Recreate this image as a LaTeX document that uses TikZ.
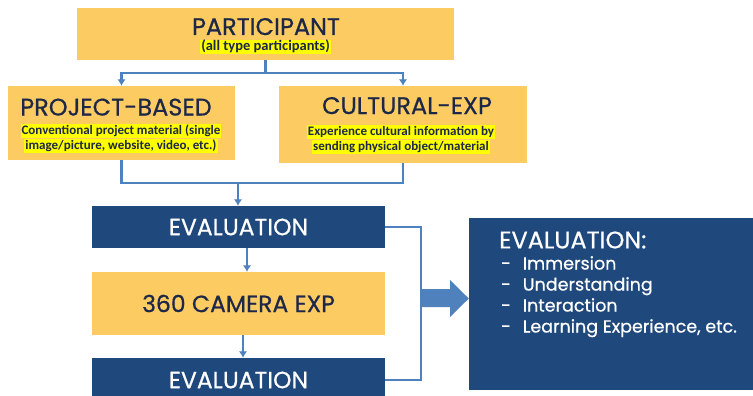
\documentclass[tikz,border=0pt]{standalone}
\usepackage{fontspec}
\setmainfont{Carlito}
\newfontfamily\headfont[FakeBold=0.6]{Poppins}
\usepackage{tikz}
\usetikzlibrary{arrows.meta,positioning}
\definecolor{boxgold}{RGB}{252,204,98}
\definecolor{boxnavy}{RGB}{31,72,124}
\definecolor{linkblue}{RGB}{79,129,189}
\definecolor{inkblue}{RGB}{29,39,72}
\definecolor{hlyellow}{RGB}{255,255,0}

\begin{document}
\begin{tikzpicture} [
    x = 1pt, y = -1pt,
    inner sep = 0,
    every node/.style = { text = inkblue },
    goldbox/.style = { fill = boxgold },
    navybox/.style = { fill = boxnavy },
    head/.style = { anchor = base, text depth = 0pt, font = \headfont\fontsize{24pt}{28pt}\selectfont },
    subhead/.style = { font = \headfont\fontsize{23.5pt}{28pt}\selectfont },
    note/.style = { fill = hlyellow, inner xsep = 1pt, text height = 10.5pt, text depth = 4pt,
        font = \bfseries\fontsize{13pt}{15pt}\selectfont },
    link/.style = { draw = linkblue, line width = 2.4pt },
    tip/.style = { -{Latex[length = 6.5pt, width = 8.5pt]} },
    item/.style = { text = white, font = \headfont\fontsize{17.5pt}{21pt}\selectfont }
    ]
    \useasboundingbox (0,0) rectangle (753,396);

    \node[goldbox, minimum width = 377pt, minimum height = 52pt] (part) at (265.5,34) {};
    \node[head] (parttitle) at (266,35) {PARTICIPANT};
    \node[note, text height = 10pt, text depth = 3.5pt, font = \bfseries\fontsize{14.5pt}{17pt}\selectfont] (partnote) at (265.5,47) {(all type participants)};

    \node[goldbox, minimum width = 227pt, minimum height = 74pt] (proj) at (121.5,123) {};
    \node[head] (projtitle) at (116,115.5) {PROJECT-BASED};
    \node[note] (projnote1) at (121,131) {Conventional project material (single};
    \node[note, below = 0pt of projnote1] (projnote2) {image/picture, website, video, etc.)};

    \node[goldbox, minimum width = 248pt, minimum height = 77pt] (cult) at (403,124.5) {};
    \node[head] (culttitle) at (407,114) {CULTURAL-EXP};
    \node[note] (cultnote1) at (401,132) {Experience cultural information by};
    \node[note, below = 0pt of cultnote1] (cultnote2) {sending physical object/material};

    \node[navybox, minimum width = 293pt, minimum height = 42pt, text = white, subhead] (evalone) at (238.5,227) {EVALUATION};
    \node[goldbox, minimum width = 293pt, minimum height = 63pt, subhead] (cam) at (238.5,303.5) {360 CAMERA EXP};
    \node[navybox, minimum width = 293pt, minimum height = 44pt, text = white, subhead] (evaltwo) at (238.5,380) {EVALUATION};

    \node[navybox, minimum width = 284pt, minimum height = 172pt] (result) at (611,304) {};
    \node[item, anchor = west, font = \headfont\fontsize{24pt}{28pt}\selectfont] (resulttitle) at (499,240) {EVALUATION:};
    \node[item, anchor = north west, align = left] (resultlist) at (501,256)
        {-\hspace{12pt}Immersion\\ -\hspace{12pt}Understanding\\ -\hspace{12pt}Interaction\\ -\hspace{12pt}Learning Experience, etc.};

    \coordinate (split) at (265.5,73);
    \coordinate (join) at (238,183);
    \draw[link] (part.south) -- (split);
    \draw[link, tip] (split) -| (proj.north);
    \draw[link, tip] (split) -| (cult.north);
    \draw[link] (proj.south) |- (join) -| (cult.south);
    \draw[link, tip] (join) -- (evalone.north -| join);
    \draw[link, tip, line width = 2pt] ([xshift = 8.5pt]evalone.south) -- ([xshift = 8.5pt]cam.north);
    \draw[link, tip, line width = 2pt] ([xshift = 4.5pt]cam.south) -- ([xshift = 4.5pt]evaltwo.north);
    \draw[link, line width = 2pt] (evalone.east) -- ++(36,0) coordinate (bend) |- (evaltwo.east);
    \fill[linkblue] (421,289) -- (450,289) -- (450,280) -- (result.west |- 0,298.5) -- (450,317) -- (450,307) -- (421,307) -- cycle;
\end{tikzpicture}
\end{document}
